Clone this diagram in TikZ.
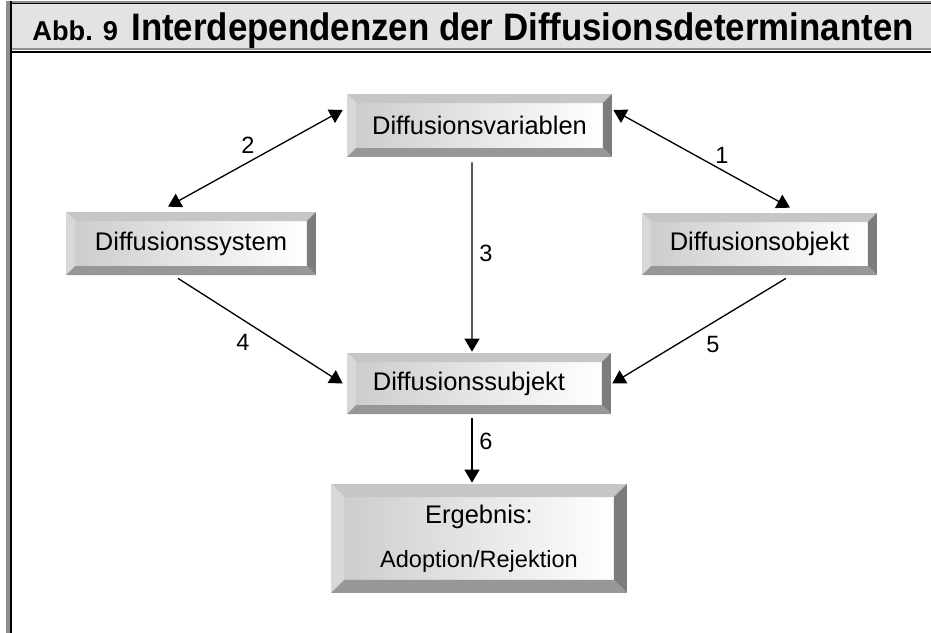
\documentclass[tikz,border=0pt]{standalone}
\usepackage{fontspec}
\setmainfont{Liberation Sans}
\newfontfamily\titlefont[FakeStretch=0.91]{Liberation Sans}
\usepackage{tikz}
\usetikzlibrary{arrows.meta,calc}

\definecolor{bvtop}{HTML}{C6C6C6}
\definecolor{bvleft}{HTML}{D8D8D8}
\definecolor{bvright}{HTML}{7C7C7C}
\definecolor{bvbot}{HTML}{979797}
\definecolor{bvface}{HTML}{CDCDCD}
\definecolor{bandgray}{HTML}{E3E3E3}
\definecolor{rulegray}{HTML}{8E8E8E}

% beveled button face, drawn inside the node path
\newcommand{\bevelfill}[1]{%
  \path (path picture bounding box.south west) coordinate (bsw)
        (path picture bounding box.north east) coordinate (bne)
        (path picture bounding box.north west) coordinate (bnw)
        (path picture bounding box.south east) coordinate (bse);
  \shade[left color=bvface, right color=white] ($(bsw)+(#1,#1)$) rectangle ($(bne)+(-#1,-#1)$);
  \fill[bvtop] (bnw) -- (bne) -- ($(bne)+(-#1,-#1)$) -- ($(bnw)+(#1,-#1)$) -- cycle;
  \fill[bvleft] (bnw) -- ($(bnw)+(#1,-#1)$) -- ($(bsw)+(#1,#1)$) -- (bsw) -- cycle;
  \fill[bvright] (bne) -- (bse) -- ($(bse)+(-#1,#1)$) -- ($(bne)+(-#1,-#1)$) -- cycle;
  \fill[bvbot] (bsw) -- ($(bsw)+(#1,#1)$) -- ($(bse)+(-#1,#1)$) -- (bse) -- cycle;
}
\newcommand{\boxfont}{\fontsize{14.5}{17}\selectfont}

\begin{document}
\begin{tikzpicture}[
  x=0.02cm, y=-0.02cm,
  bevelbox/.style={
    inner sep=0pt, minimum height=1.25cm, align=center,
    font=\boxfont, path picture={\bevelfill{1.8mm}}
  },
  bigbevel/.style={bevelbox, path picture={\bevelfill{2.6mm}}},
  arr/.style={-{Triangle[length=2.6mm,width=3mm]}, line width=0.75pt},
  dblarr/.style={{Triangle[length=2.6mm,width=3mm]}-{Triangle[length=2.6mm,width=3mm]}, line width=0.75pt},
  num/.style={font=\fontsize{13.4}{15}\selectfont, inner sep=0pt}
]
\useasboundingbox (0,0) rectangle (931,633);

% frame and title band
\fill[bandgray] (11,3) rectangle (931,48);
\fill[rulegray] (6,1) rectangle (931,2.5);
\fill[black] (6,2.5) rectangle (931,4);
\fill[rulegray] (11,47.5) rectangle (931,49.5);
\fill[black] (11,51) rectangle (931,53);
\fill[rulegray] (6.5,1) rectangle (10,633);
\fill[black] (10,1) rectangle (11.5,633);
\node[anchor=base west, inner sep=0pt] (abb) at (32,40)
  {\bfseries\fontsize{15.5}{17}\selectfont Abb. 9};
\node[anchor=base west, inner sep=0pt] (title) at (131,40)
  {\titlefont\bfseries\fontsize{21.8}{24}\selectfont Interdependenzen der Diffusionsdeterminanten};

% boxes
\node[bevelbox, minimum width=5.3cm, minimum height=1.26cm] (var) at (479.5,125.5) {Diffusionsvariablen};
\node[bevelbox, minimum width=5.0cm, minimum height=1.26cm] (sys) at (191,243.5) {Diffusionssystem};
\node[bevelbox, minimum width=4.7cm, minimum height=1.24cm] (obj) at (759.5,244) {Diffusionsobjekt};
\node[bevelbox, minimum width=5.28cm, minimum height=1.22cm] (subj) at (479,383.5) {Diffusionssubjekt\hspace*{0.4cm}};
\node[bigbevel, minimum width=5.92cm, minimum height=2.18cm] (erg) at (479,538.5)
  {Ergebnis:\\[8pt]{\fontsize{13.4}{15}\selectfont Adoption/Rejektion}};

% connectors
\draw[dblarr] ([shift={(0.02cm,0.31cm)}]var.east) -- ([shift={(0.61cm,0.1cm)}]obj.north);
\draw[dblarr] ([shift={(-0.08cm,0.31cm)}]var.west) -- ([shift={(-0.46cm,0.1cm)}]sys.north);
\draw[arr] ([shift={(-0.15cm,-0.1cm)}]var.south) -- ([shift={(-0.14cm,0.02cm)}]subj.north);
\draw[arr] ([shift={(-0.26cm,-0.06cm)}]sys.south) -- ([shift={(-0.08cm,0cm)}]subj.west);
\draw[arr] ([shift={(0.53cm,-0.06cm)}]obj.south) -- ([shift={(0.02cm,0cm)}]subj.east);
\draw[arr] ([shift={(-0.14cm,-0.08cm)}]subj.south) -- ([shift={(-0.14cm,0.02cm)}]erg.north);

% numbers
\node[num] (n1) at (722,155) {1};
\node[num] (n2) at (248,145) {2};
\node[num] (n3) at (486,253) {3};
\node[num] (n4) at (243,342) {4};
\node[num] (n5) at (713,345) {5};
\node[num] (n6) at (486,441) {6};
\end{tikzpicture}
\end{document}
